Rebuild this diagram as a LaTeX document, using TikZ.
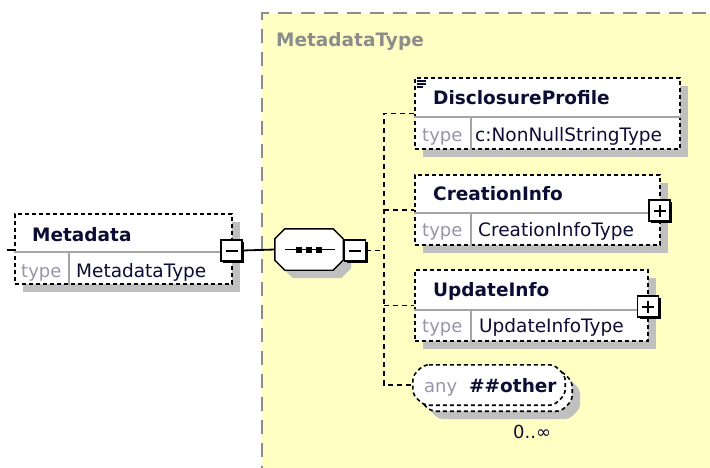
\documentclass[tikz,border=0pt]{standalone}
\usepackage{fontspec}
\setmainfont{DejaVu Sans}
\usetikzlibrary{shadows}
\definecolor{ybg}{RGB}{255,255,196}
\definecolor{shgray}{RGB}{192,192,192}
\definecolor{divgray}{RGB}{165,165,165}
\definecolor{typegray}{RGB}{150,150,168}
\definecolor{namecol}{RGB}{12,12,52}
\definecolor{bordergray}{RGB}{140,140,140}
\begin{document}
\begin{tikzpicture}[x=1pt,y=-1pt,
  ctbox/.style={draw=bordergray, fill=ybg, line width=1.8pt, dash pattern=on 14pt off 9pt, inner sep=0, anchor=north west},
  elembox/.style={draw=black, fill=white, line width=1.7pt, dash pattern=on 4pt off 3pt, inner sep=0, anchor=north west,
    drop shadow={shadow xshift=8pt, shadow yshift=-8pt, fill=shgray, opacity=1}},
  ctrlbox/.style={draw=black, fill=white, line width=1.3pt, minimum size=21pt, inner sep=0,
    drop shadow={shadow xshift=2pt, shadow yshift=-2pt, fill=black, opacity=1}},
  sign/.style={line width=2pt, black},
  divider/.style={draw=divgray, line width=1.4pt},
  anchorbox/.style={rectangle, inner sep=0, draw=none},
  octpath/.style 2 args={insert path={([xshift=#2]#1.north west) -- ([xshift=-#2]#1.north east)
      -- ([yshift=-#2]#1.north east) -- ([yshift=#2]#1.south east) -- ([xshift=-#2]#1.south east)
      -- ([xshift=#2]#1.south west) -- ([yshift=#2]#1.south west) -- ([yshift=-#2]#1.north west) -- cycle}},
  octshadow/.style={fill=shgray, transform canvas={shift={(8pt,-8pt)}}},
  solidconn/.style={draw=black, line width=1.8pt},
  dashconn/.style={draw=black, line width=1.6pt, dash pattern=on 5pt off 4pt},
  elname/.style={font=\fontsize{18.5pt}{22pt}\selectfont\bfseries, text=namecol, inner sep=0, anchor=base west},
  typelbl/.style={font=\fontsize{18pt}{22pt}\selectfont, text=typegray, inner sep=0, anchor=base west},
  typeval/.style={font=\fontsize{18.5pt}{22pt}\selectfont, text=namecol, inner sep=0, anchor=base west},
  ctlabel/.style={font=\fontsize{18.5pt}{22pt}\selectfont\bfseries, text=bordergray, inner sep=0, anchor=base west}
]
\useasboundingbox (0,0) rectangle (710,467);
\fill[white] (0,0) rectangle (710,467);

% complex type container
\node[ctbox, minimum width=470pt, minimum height=470pt] (ctype) at (261,12) {};
\node[ctlabel] (ctname) at (276,46) {MetadataType};

% Metadata element
\coordinate (stub) at (7,250);
\node[elembox, minimum width=217pt, minimum height=70pt] (meta) at (14,213) {};
\draw[line width=1.4pt] (stub) -- (meta.west |- stub);
\draw[divider] ([yshift=-39pt]meta.north west) -- ([yshift=-39pt]meta.north east);
\draw[divider] ([xshift=55pt,yshift=-39pt]meta.north west) -- ([xshift=55pt]meta.south west);
\node[elname] (metaname) at (32,241) {Metadata};
\node[typelbl] (metatl) at (21,277) {type};
\node[typeval] (metatv) at (76,277) {MetadataType};
\node[ctrlbox] (metaminus) at (231.5,250.5) {};
\draw[sign] ([xshift=-6pt]metaminus.center) -- ([xshift=6pt]metaminus.center);

% sequence compositor
\node[anchorbox, minimum width=68pt, minimum height=41pt] (seq) at (309,249.5) {};
\path[octshadow, octpath={seq}{10pt}];
\draw[fill=white, line width=1.4pt, octpath={seq}{10pt}];
\draw[line width=1.8pt] ([xshift=-24pt]seq.center) -- ([xshift=26pt]seq.center);
\foreach \dx in {-10,0,10} {
  \fill[black] ([xshift=\dx pt]seq.center) ++(-3,-3) rectangle ++(6,6);
}
\node[ctrlbox] (seqminus) at (355,250.5) {};
\draw[sign] ([xshift=-6pt]seqminus.center) -- ([xshift=6pt]seqminus.center);
\draw[solidconn] (metaminus.east) -- (seq.west);

% child elements
\node[elembox, minimum width=265pt, minimum height=71pt] (disc) at (414,77) {};
\draw[divider] ([yshift=-40pt]disc.north west) -- ([yshift=-40pt]disc.north east);
\draw[divider] ([xshift=57pt,yshift=-40pt]disc.north west) -- ([xshift=57pt]disc.south west);
\node[elname] (discname) at (433,104) {DisclosureProfile};
\node[typelbl] (disctl) at (422,141) {type};
\node[typeval] (disctv) at (475,141) {c:NonNullStringType};
\foreach \yy/\ll in {81/9,84/9,87/6} {
  \draw[line width=1.3pt, namecol] (417,\yy) -- ++(\ll,0);
}

\node[elembox, minimum width=245pt, minimum height=70pt] (crea) at (414,174) {};
\draw[divider] ([yshift=-39pt]crea.north west) -- ([yshift=-39pt]crea.north east);
\draw[divider] ([xshift=57pt,yshift=-39pt]crea.north west) -- ([xshift=57pt]crea.south west);
\node[elname] (creaname) at (433,200) {CreationInfo};
\node[typelbl] (creatl) at (422,236) {type};
\node[typeval] (creatv) at (478,236) {CreationInfoType};
\node[ctrlbox] (creaplus) at (659.5,210.5) {};
\draw[sign] ([xshift=-6pt]creaplus.center) -- ([xshift=6pt]creaplus.center);
\draw[sign] ([yshift=-6pt]creaplus.center) -- ([yshift=6pt]creaplus.center);

\node[elembox, minimum width=233pt, minimum height=71pt] (upd) at (414,269) {};
\draw[divider] ([yshift=-41pt]upd.north west) -- ([yshift=-41pt]upd.north east);
\draw[divider] ([xshift=57pt,yshift=-41pt]upd.north west) -- ([xshift=57pt]upd.south west);
\node[elname] (updname) at (433,296) {UpdateInfo};
\node[typelbl] (updtl) at (422,332) {type};
\node[typeval] (updtv) at (479,332) {UpdateInfoType};
\node[ctrlbox] (updplus) at (648,306.5) {};
\draw[sign] ([xshift=-6pt]updplus.center) -- ([xshift=6pt]updplus.center);
\draw[sign] ([yshift=-6pt]updplus.center) -- ([yshift=6pt]updplus.center);

% any ##other (0..unbounded)
\node[anchorbox, minimum width=152pt, minimum height=40pt] (anyback) at (496,391) {};
\node[anchorbox, minimum width=152pt, minimum height=40pt] (anyn) at (489,385) {};
\path[octshadow, rounded corners=5pt, octpath={anyback}{11pt}];
\draw[fill=white, line width=1.6pt, dash pattern=on 4pt off 3pt, rounded corners=5pt, octpath={anyback}{11pt}];
\draw[fill=white, line width=1.6pt, dash pattern=on 4pt off 3pt, rounded corners=5pt, octpath={anyn}{11pt}];
\node[typelbl] (anytl) at (424,392) {any};
\node[elname] (anyname) at (469,392) {\#\#other};
\node[typeval, font=\fontsize{18pt}{22pt}\selectfont] (occ) at (513,438) {0..∞};

% connectors
\coordinate (tx) at (384,0);
\draw[dashconn] (seqminus.east) -- (tx |- seqminus.east);
\draw[dashconn] (disc.west) -| (tx |- anyn.west) -- (anyn.west);
\draw[dashconn] (tx |- crea.west) -- (crea.west);
\draw[dashconn] (tx |- upd.west) -- (upd.west);
\end{tikzpicture}
\end{document}
